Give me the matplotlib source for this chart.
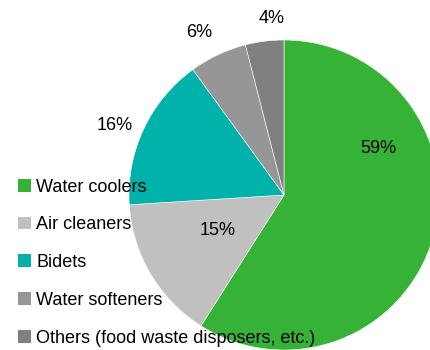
import matplotlib.pyplot as plt
from matplotlib.patches import Patch

plt.rcParams['font.family'] = ['Liberation Sans', 'DejaVu Sans']

categories = ['Water coolers', 'Air cleaners', 'Bidets', 'Water softeners',
              'Others (food waste disposers, etc.)']
shares = [59, 15, 16, 6, 4]
colors = ['#36b237', '#c0c0c0', '#00b2aa', '#969696', '#808080']

# where each percentage label sits (pie radius units)
label_pos = [(0.61, 0.30), (-0.43, -0.23), (-1.09, 0.45), (-0.55, 1.05), (-0.08, 1.14)]

fig = plt.figure(figsize=(4.3, 3.5), dpi=100)
ax = fig.add_axes([0, 0, 1, 1])

wedges, texts, autotexts = ax.pie(shares, colors=colors, startangle=90, counterclock=False,
                                  radius=1, autopct=lambda p: f'{round(p)}%',
                                  wedgeprops=dict(edgecolor='white', linewidth=0.4),
                                  textprops=dict(fontsize=13, color='black'))
for t, p in zip(autotexts, label_pos):
    t.set_position(p)
    t.set_ha('center')
    t.set_va('center')

ax.set_aspect('equal')
ax.set_xlim(-1.832, 0.942)
ax.set_ylim(-1.0, 1.258)
ax.axis('off')

handles = [Patch(facecolor=c, edgecolor='none') for c in colors]
ax.legend(handles, categories, loc='upper left', bbox_to_anchor=(0.042, 0.49),
          bbox_transform=fig.transFigure, frameon=False, fontsize=13,
          handlelength=0.7, handleheight=0.7, handletextpad=0.3,
          labelspacing=1.15, borderaxespad=0, borderpad=0)

plt.savefig('out.png', dpi=100)
